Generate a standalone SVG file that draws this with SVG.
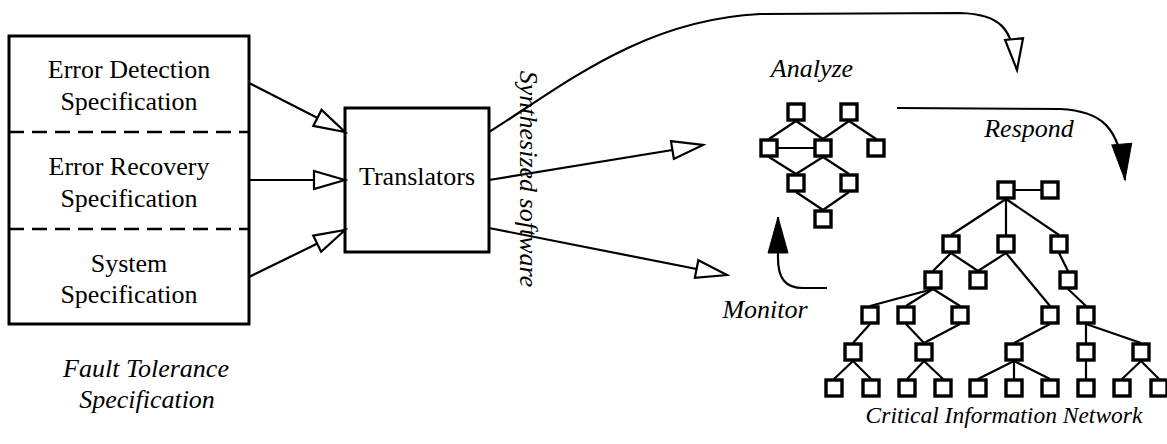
<svg xmlns="http://www.w3.org/2000/svg" width="1167" height="444" viewBox="0 0 1167 444">
<style>
text{font-family:"Times New Roman","Liberation Serif",Times,"DejaVu Serif",serif;fill:#000}
.t{font-size:26px;text-anchor:middle}
.i{font-size:26px;font-style:italic;text-anchor:middle}
.box{fill:#fff;stroke:#000;stroke-width:3}
.n{fill:#fff;stroke:#000;stroke-width:3.4}
.dash{stroke:#000;stroke-width:2.5;stroke-dasharray:15 8;fill:none}
.c{stroke:#000;stroke-width:2.2;fill:none}
.e{stroke:#000;stroke-width:2.2;fill:none}
.ho{marker-end:url(#hollow)}
.fi{marker-end:url(#filled)}
</style>
<defs>
<marker id="hollow" markerUnits="userSpaceOnUse" markerWidth="36" markerHeight="24" refX="33" refY="11" orient="auto" viewBox="0 0 36 24">
<path d="M2,2 L33,11 L2,20 Z" fill="#fff" stroke="#000" stroke-width="2.2" stroke-linejoin="miter"/>
</marker>
<marker id="filled" markerUnits="userSpaceOnUse" markerWidth="40" markerHeight="24" refX="37" refY="11" orient="auto" viewBox="0 0 40 24">
<path d="M1,1 L37,11 L1,21 Z" fill="#000" stroke="#000" stroke-width="1"/>
</marker>
</defs>

<g id="spec-box">
<rect class="box" x="9" y="36" width="240" height="288"/>
<line class="dash" x1="9" y1="132" x2="249" y2="132"/>
<line class="dash" x1="9" y1="229" x2="249" y2="229"/>
<text class="t" x="129" y="78">Error Detection</text>
<text class="t" x="129" y="110">Specification</text>
<text class="t" x="129" y="175">Error Recovery</text>
<text class="t" x="129" y="207">Specification</text>
<text class="t" x="129" y="272">System</text>
<text class="t" x="129" y="303">Specification</text>
</g>
<g id="fault-label">
<text class="i" x="146" y="377">Fault Tolerance</text>
<text class="i" x="147" y="408">Specification</text>
</g>

<g id="translators">
<rect class="box" x="345" y="108" width="144" height="144"/>
<text class="t" x="417" y="185">Translators</text>
</g>

<g id="synth-label">
<text class="i" transform="translate(520,179) rotate(90)" x="0" y="0">Synthesized software</text>
</g>

<g id="labels">
<text class="i" x="812" y="77">Analyze</text>
<text class="i" x="1029" y="137">Respond</text>
<text class="i" x="765" y="318">Monitor</text>
<text class="i" x="1004" y="423" style="font-size:23.5px">Critical Information Network</text>
</g>

<g id="connectors">
<path class="c ho" d="M249,83 L345,132"/>
<path class="c ho" d="M249,180 L345,180"/>
<path class="c ho" d="M249,277 L345,230"/>
<path class="c ho" d="M489,180 L703,145"/>
<path class="c ho" d="M489,228 L727,275"/>
<path class="c ho" d="M489,132 C560,88 640,20 760,14 L960,13 C1000,14 1013,28 1017,70"/>
<path class="c fi" d="M897,108 L1060,109 C1100,111 1120,125 1125,180"/>
<path class="c fi" d="M827,288 L803,288 C785,288 778,278 778,258 L778,217"/>
</g>

<g id="analyze-edges">
<line class="e" x1="796" y1="121" x2="769" y2="139"/>
<line class="e" x1="796" y1="121" x2="823" y2="139"/>
<line class="e" x1="849" y1="121" x2="823" y2="139"/>
<line class="e" x1="849" y1="121" x2="876" y2="139"/>
<line class="e" x1="769" y1="148" x2="823" y2="148"/>
<line class="e" x1="769" y1="157" x2="796" y2="174"/>
<line class="e" x1="823" y1="157" x2="796" y2="174"/>
<line class="e" x1="823" y1="157" x2="849" y2="174"/>
<line class="e" x1="796" y1="192" x2="823" y2="210"/>
<line class="e" x1="849" y1="192" x2="823" y2="210"/>
</g>
<g id="analyze-graph">
<g id="a1"><rect class="n" x="788" y="104" width="16" height="16"/></g>
<g id="a2"><rect class="n" x="841" y="104" width="16" height="16"/></g>
<g id="b1"><rect class="n" x="761" y="140" width="16" height="16"/></g>
<g id="b2"><rect class="n" x="815" y="140" width="16" height="16"/></g>
<g id="b3"><rect class="n" x="868" y="140" width="16" height="16"/></g>
<g id="c1"><rect class="n" x="788" y="175" width="16" height="16"/></g>
<g id="c2"><rect class="n" x="841" y="175" width="16" height="16"/></g>
<g id="d1"><rect class="n" x="815" y="211" width="16" height="16"/></g>
</g>

<g id="network-edges">
<line class="e" x1="1006" y1="190" x2="1050" y2="190"/>
<line class="e" x1="1006" y1="199" x2="951" y2="235"/>
<line class="e" x1="1006" y1="199" x2="1006" y2="235"/>
<line class="e" x1="1006" y1="199" x2="1059" y2="235"/>
<line class="e" x1="951" y1="253" x2="933" y2="271"/>
<line class="e" x1="951" y1="253" x2="978" y2="271"/>
<line class="e" x1="1006" y1="253" x2="978" y2="271"/>
<line class="e" x1="1006" y1="253" x2="1050" y2="306"/>
<line class="e" x1="1059" y1="253" x2="1068" y2="271"/>
<line class="e" x1="933" y1="289" x2="870" y2="306"/>
<line class="e" x1="933" y1="289" x2="906" y2="306"/>
<line class="e" x1="933" y1="289" x2="960" y2="306"/>
<line class="e" x1="1068" y1="289" x2="1086" y2="306"/>
<line class="e" x1="870" y1="324" x2="853" y2="343"/>
<line class="e" x1="906" y1="324" x2="924" y2="343"/>
<line class="e" x1="960" y1="324" x2="924" y2="343"/>
<line class="e" x1="1050" y1="324" x2="1014" y2="343"/>
<line class="e" x1="1086" y1="324" x2="1086" y2="343"/>
<line class="e" x1="1086" y1="324" x2="1141" y2="343"/>
<line class="e" x1="853" y1="361" x2="834" y2="379"/>
<line class="e" x1="853" y1="361" x2="871" y2="379"/>
<line class="e" x1="924" y1="361" x2="907" y2="379"/>
<line class="e" x1="924" y1="361" x2="943" y2="379"/>
<line class="e" x1="1014" y1="361" x2="978" y2="379"/>
<line class="e" x1="1014" y1="361" x2="1014" y2="379"/>
<line class="e" x1="1014" y1="361" x2="1050" y2="379"/>
<line class="e" x1="1086" y1="361" x2="1086" y2="379"/>
<line class="e" x1="1141" y1="361" x2="1122" y2="379"/>
<line class="e" x1="1141" y1="361" x2="1159" y2="379"/>
</g>
<g id="network">
<g id="r0"><rect class="n" x="998" y="182" width="16" height="16"/></g>
<g id="r1"><rect class="n" x="1042" y="182" width="16" height="16"/></g>
<g id="l1a"><rect class="n" x="943" y="236" width="16" height="16"/></g>
<g id="l1b"><rect class="n" x="998" y="236" width="16" height="16"/></g>
<g id="l1c"><rect class="n" x="1051" y="236" width="16" height="16"/></g>
<g id="l2a"><rect class="n" x="925" y="272" width="16" height="16"/></g>
<g id="l2b"><rect class="n" x="970" y="272" width="16" height="16"/></g>
<g id="l2c"><rect class="n" x="1060" y="272" width="16" height="16"/></g>
<g id="l3a"><rect class="n" x="862" y="307" width="16" height="16"/></g>
<g id="l3b"><rect class="n" x="898" y="307" width="16" height="16"/></g>
<g id="l3c"><rect class="n" x="952" y="307" width="16" height="16"/></g>
<g id="l3d"><rect class="n" x="1042" y="307" width="16" height="16"/></g>
<g id="l3e"><rect class="n" x="1078" y="307" width="16" height="16"/></g>
<g id="l4a"><rect class="n" x="845" y="344" width="16" height="16"/></g>
<g id="l4b"><rect class="n" x="916" y="344" width="16" height="16"/></g>
<g id="l4c"><rect class="n" x="1006" y="344" width="16" height="16"/></g>
<g id="l4d"><rect class="n" x="1078" y="344" width="16" height="16"/></g>
<g id="l4e"><rect class="n" x="1133" y="344" width="16" height="16"/></g>
<g id="l5a"><rect class="n" x="826" y="380" width="16" height="16"/></g>
<g id="l5b"><rect class="n" x="863" y="380" width="16" height="16"/></g>
<g id="l5c"><rect class="n" x="899" y="380" width="16" height="16"/></g>
<g id="l5d"><rect class="n" x="935" y="380" width="16" height="16"/></g>
<g id="l5e"><rect class="n" x="970" y="380" width="16" height="16"/></g>
<g id="l5f"><rect class="n" x="1006" y="380" width="16" height="16"/></g>
<g id="l5g"><rect class="n" x="1042" y="380" width="16" height="16"/></g>
<g id="l5h"><rect class="n" x="1078" y="380" width="16" height="16"/></g>
<g id="l5i"><rect class="n" x="1114" y="380" width="16" height="16"/></g>
<g id="l5j"><rect class="n" x="1151" y="380" width="16" height="16"/></g>
</g>
</svg>
